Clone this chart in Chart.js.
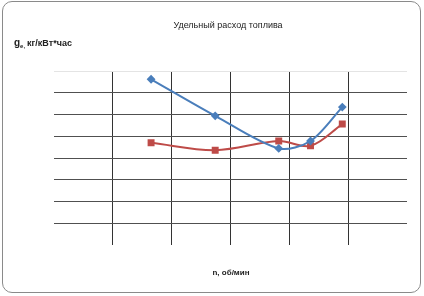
<!DOCTYPE html>
<html>
<head>
<meta charset="utf-8">
<script src="https://cdn.jsdelivr.net/npm/chart.js@4/dist/chart.umd.min.js"></script>
<style>
  html, body { margin: 0; padding: 0; background: #fff; }
  #wrap { position: relative; width: 424px; height: 296px; }
  #frame {
    position: absolute; left: 2px; top: 1px; width: 417px; height: 290px;
    border: 1px solid #8a8a8a; border-radius: 10px; pointer-events: none;
  }
</style>
</head>
<body>
<div id="wrap">
  <canvas id="chart" width="424" height="296"></canvas>
  <div id="frame"></div>
</div>
<script>
// Speed (rpm) and specific fuel consumption readings
const rpm = [1650, 2740, 3820, 4360, 4900];
const seriesBlue = [381, 297, 222, 239, 317];
const seriesRed = [235, 218, 239, 228, 278];

const titleText = 'Удельный расход топлива';
const xLabel = 'n, об/мин';

const toPoints = (ys) => rpm.map((x, i) => ({ x: x, y: ys[i] }));

// draws the title and axis captions (no space is reserved by the library)
const captions = {
  id: 'captions',
  afterDraw(chart) {
    const ctx = chart.ctx;
    ctx.save();
    ctx.fillStyle = '#222';
    ctx.textBaseline = 'middle';
    ctx.textAlign = 'center';
    ctx.font = '9px "Liberation Sans", Arial, sans-serif';
    ctx.fillText(titleText, 228, 26);

    ctx.font = 'bold 8px "Liberation Sans", Arial, sans-serif';
    ctx.fillText(xLabel, 231, 273);

    // y caption with subscript "е,"
    ctx.textAlign = 'left';
    ctx.font = 'bold 10px "Liberation Sans", Arial, sans-serif';
    ctx.fillText('g', 14, 43);
    let x = 14 + ctx.measureText('g').width;
    ctx.font = 'bold 6px "Liberation Sans", Arial, sans-serif';
    ctx.fillText('е,', x, 46);
    x += ctx.measureText('е,').width + 2;
    ctx.font = 'bold 9px "Liberation Sans", Arial, sans-serif';
    ctx.fillText('кг/кВт*час', x, 44);
    ctx.restore();
  }
};

new Chart(document.getElementById('chart'), {
  type: 'scatter',
  data: {
    datasets: [
      {
        label: 'ge1',
        data: toPoints(seriesBlue),
        showLine: true,
        borderColor: '#4a7ebb',
        backgroundColor: '#4a7ebb',
        borderWidth: 2,
        tension: 0.3,
        pointStyle: 'rectRot',
        pointRadius: 3,
        pointHoverRadius: 3,
      },
      {
        label: 'ge2',
        data: toPoints(seriesRed),
        showLine: true,
        borderColor: '#be4b48',
        backgroundColor: '#be4b48',
        borderWidth: 2,
        tension: 0.35,
        pointStyle: 'rect',
        pointRadius: 3.5,
        pointHoverRadius: 3.5,
      },
    ],
  },
  options: {
    responsive: false,
    animation: false,
    events: [],
    layout: { padding: { left: 54, right: 17, top: 71, bottom: 51 } },
    plugins: {
      legend: { display: false },
      title: { display: false },
      tooltip: { enabled: false },
    },
    scales: {
      x: {
        type: 'linear',
        min: 0,
        max: 6000,
        ticks: { display: false, stepSize: 1000 },
        border: { display: false },
        grid: {
          drawTicks: false,
          lineWidth: 1,
          color: (c) => (c.tick && (c.tick.value === 0 || c.tick.value === 6000)) ? 'rgba(0,0,0,0)' : '#333',
        },
      },
      y: {
        min: 0,
        max: 400,
        ticks: { display: false, stepSize: 50 },
        border: { display: false },
        grid: {
          drawTicks: false,
          lineWidth: 1,
          color: (c) => {
            if (!c.tick) return '#555';
            if (c.tick.value === 0) return 'rgba(0,0,0,0)';
            if (c.tick.value === 400) return '#e4e4e4';
            return '#505050';
          },
        },
      },
    },
  },
  plugins: [captions],
});
</script>
</body>
</html>
